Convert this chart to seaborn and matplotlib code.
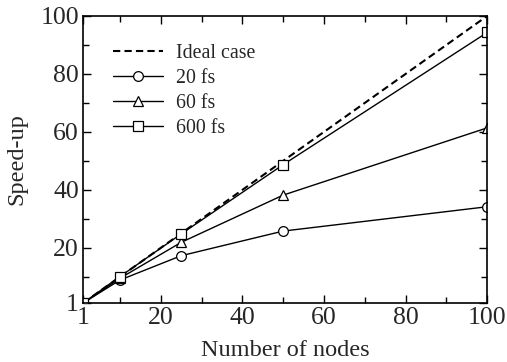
import numpy as np
import pandas as pd
import seaborn as sns
import matplotlib
matplotlib.use("Agg")
import matplotlib.pyplot as plt
from matplotlib.ticker import FixedLocator

# data
nodes = [1, 10, 25, 50, 100]
ideal = [1, 10, 25, 50, 100]
fs20 = [1, 8.9, 17.3, 25.8, 34.2]
fs60 = [1, 9.5, 21.9, 38.2, 61.4]
fs600 = [1, 10.1, 24.8, 48.7, 94.3]

sns.set_style("ticks")
plt.rcParams["font.family"] = ["Liberation Serif", "DejaVu Serif"]
plt.rcParams["mathtext.fontset"] = "stix"

fig, ax = plt.subplots(figsize=(5.07, 3.62), dpi=100)
fig.subplots_adjust(left=0.164, right=0.961, top=0.956, bottom=0.163)

sns.lineplot(x=nodes, y=ideal, ax=ax, color="black", linestyle=(0, (3.5, 2)),
             linewidth=1.5, label="Ideal case")
series = [("20 fs", fs20, "o"), ("60 fs", fs60, "^"), ("600 fs", fs600, "s")]
for name, vals, mk in series:
    sns.lineplot(x=nodes, y=vals, ax=ax, color="black", linewidth=1.0,
                 marker=mk, markersize=7, markerfacecolor="white",
                 markeredgecolor="black", markeredgewidth=0.9, label=name)

ax.set_xlim(1, 100)
ax.set_ylim(1, 100)
major = [1, 20, 40, 60, 80, 100]
minor = [10, 30, 50, 70, 90]
ax.xaxis.set_major_locator(FixedLocator(major))
ax.yaxis.set_major_locator(FixedLocator(major))
ax.xaxis.set_minor_locator(FixedLocator(minor))
ax.yaxis.set_minor_locator(FixedLocator(minor))
ax.tick_params(which="both", direction="in", top=True, right=True,
               labelsize=18.5, width=1.0, color="black")
ax.tick_params(which="major", length=6, pad=3)
ax.tick_params(which="minor", length=4)
for s in ax.spines.values():
    s.set_linewidth(1.2)
    s.set_color("black")

ax.set_xlabel("Number of nodes", fontsize=17.5, labelpad=8)
ax.set_ylabel("Speed-up", fontsize=17.5, labelpad=9)

leg = ax.legend(loc="upper left", frameon=False, fontsize=14.3, handlelength=2.5,
                labelspacing=0.3, borderaxespad=0.0, bbox_to_anchor=(0.055, 0.93),
                handletextpad=0.67)

fig.savefig("out.png", dpi=100)
